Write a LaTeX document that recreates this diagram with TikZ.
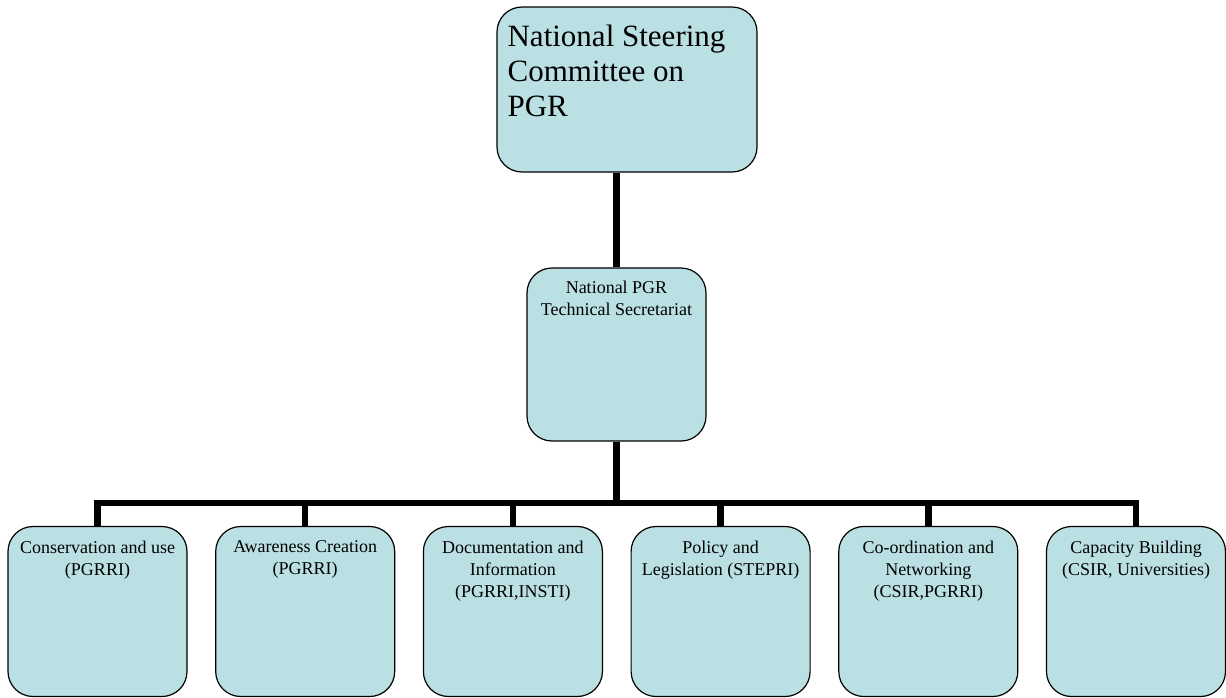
\documentclass[tikz,border=0pt]{standalone}
\usepackage{fontspec}
\setmainfont{Liberation Serif}
\usepackage{xcolor}
\usepackage{tikz}
\definecolor{boxblue}{HTML}{BBE0E3}

\begin{document}
\begin{tikzpicture}[x=1pt,y=-1pt,
	box/.style={draw=black,line width=1.2pt,fill=boxblue,rounded corners=25pt,inner sep=0pt},
	unit/.style={box,minimum width=179pt,minimum height=170pt},
	txt/.style={align=center,inner sep=0pt,anchor=north,font=\fontsize{18}{22}\selectfont},
	link/.style={line width=6.5pt}]
	\useasboundingbox (0,0) rectangle (1226,697);

	\node[box,minimum width=260pt,minimum height=165pt] (nsc) at (627,89.5) {};
	\node[anchor=north west,inner sep=0pt,align=left,font=\fontsize{31}{35}\selectfont]
		(nsct) at ([xshift=11pt,yshift=-18pt]nsc.north west) {National Steering\\Committee on\\PGR};

	\node[box,minimum width=179pt,minimum height=173pt] (sec) at (616.5,354.5) {};
	\node[txt] (sect) at ([yshift=-13.5pt]sec.north) {National PGR\\Technical Secretariat};

  	\node[unit] (c1) at (97.5,611.5) {};
  	\node[unit] (c2) at (305.2,611.5) {};
  	\node[unit] (c3) at (512.9,611.5) {};
  	\node[unit] (c4) at (720.6,611.5) {};
  	\node[unit] (c5) at (928.3,611.5) {};
  	\node[unit] (c6) at (1136,611.5) {};

	\node[txt] (t1) at ([yshift=-14.5pt]c1.north) {Conservation and use\\(PGRRI)};
	\node[txt] (t2) at ([yshift=-14.5pt]c2.north) {Awareness Creation\\(PGRRI)};
	\node[txt] (t3) at ([yshift=-14.5pt]c3.north) {Documentation and\\Information\\(PGRRI,INSTI)};
	\node[txt] (t4) at ([yshift=-14.5pt]c4.north) {Policy and\\Legislation (STEPRI)};
	\node[txt] (t5) at ([yshift=-14.5pt]c5.north) {Co-ordination and\\Networking\\(CSIR,PGRRI)};
	\node[txt] (t6) at ([yshift=-14.5pt]c6.north) {Capacity Building\\(CSIR, Universities)};

	\coordinate (bus) at (616.5,503);

	\draw[link] (sec.north) -- (sec.north |- nsc.south);
	\draw[link] (sec.south) -- (bus);
	\draw[link] (c1.north) |- (c6.north |- bus) -- (c6.north);
	\foreach \i in {2,...,5}
		\draw[link] (c\i.north) -- (c\i.north |- bus);
  	
\end{tikzpicture}
\end{document}
